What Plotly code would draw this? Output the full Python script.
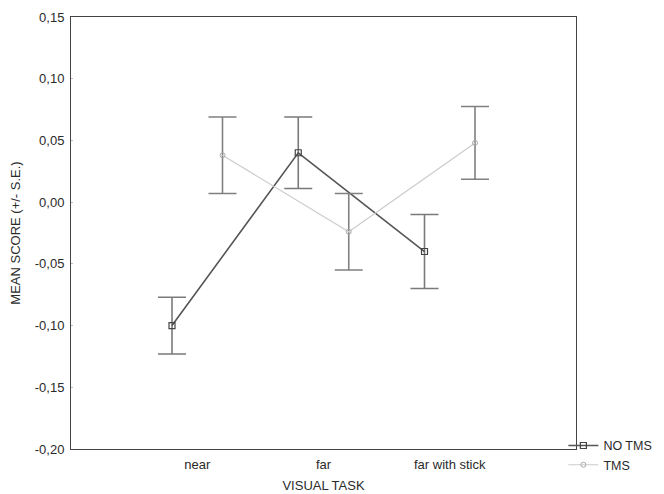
import plotly.graph_objects as go

categories = ["near", "far", "far with stick"]
no_tms_mean = [-0.100, 0.040, -0.040]
no_tms_se = [0.023, 0.029, 0.030]
tms_mean = [0.038, -0.024, 0.048]
tms_se = [0.031, 0.031, 0.0295]
y_ticks = [0.15, 0.10, 0.05, 0.00, -0.05, -0.10, -0.15, -0.20]

y_ticktext = [f"{v:.2f}".replace(".", ",") for v in y_ticks]

base = [1, 2, 3]
offset = 0.2
x_no = [b - offset for b in base]
x_tms = [b + offset for b in base]

FONT = "Liberation Sans, Arial"
FS = 13

fig = go.Figure()
fig.add_trace(go.Scatter(
    x=x_no, y=no_tms_mean, name="NO TMS", mode="lines+markers",
    line=dict(color="#555555", width=1.6),
    marker=dict(symbol="square-open", size=6, color="#444444", line=dict(width=1.2)),
    error_y=dict(type="data", array=no_tms_se, color="#7a7a7a", thickness=1.6, width=14),
))
fig.add_trace(go.Scatter(
    x=x_tms, y=tms_mean, name="TMS", mode="lines+markers",
    line=dict(color="#cccccc", width=1.2),
    marker=dict(symbol="circle-open", size=5, color="#aaaaaa", line=dict(width=1)),
    error_y=dict(type="data", array=tms_se, color="#808080", thickness=1.6, width=14),
))

# the page body adds an 8px offset; the figure is sized/margined to compensate
fig.update_layout(
    width=656, height=486,
    margin=dict(l=63, r=88, t=9, b=45, autoexpand=False),
    paper_bgcolor="white", plot_bgcolor="white",
    font=dict(family=FONT, size=FS, color="#2a2a2a"),
    showlegend=True,
    legend=dict(x=0.975, y=0.042, xanchor="left", yanchor="top",
                font=dict(size=12.5, color="#2a2a2a"), bgcolor="rgba(0,0,0,0)",
                itemwidth=30, tracegroupgap=0),
    xaxis=dict(range=[0, 4], tickmode="array", tickvals=base, ticktext=categories,
               showgrid=False, zeroline=False, showline=True, linecolor="#444444",
               linewidth=1, mirror=True, ticks="", automargin=False,
               ticklabelstandoff=3,
               title=dict(text="VISUAL TASK", standoff=10, font=dict(size=FS))),
    yaxis=dict(range=[-0.20, 0.15], tickmode="array", tickvals=y_ticks, ticktext=y_ticktext,
               showgrid=False, zeroline=False, showline=True, linecolor="#444444",
               linewidth=1, mirror=True, ticks="inside", ticklen=2, tickcolor="#bbbbbb",
               automargin=False, ticklabelstandoff=3,
               title=dict(text="MEAN SCORE (+/- S.E.)", standoff=11, font=dict(size=FS))),
)

fig.write_html("out.html")
